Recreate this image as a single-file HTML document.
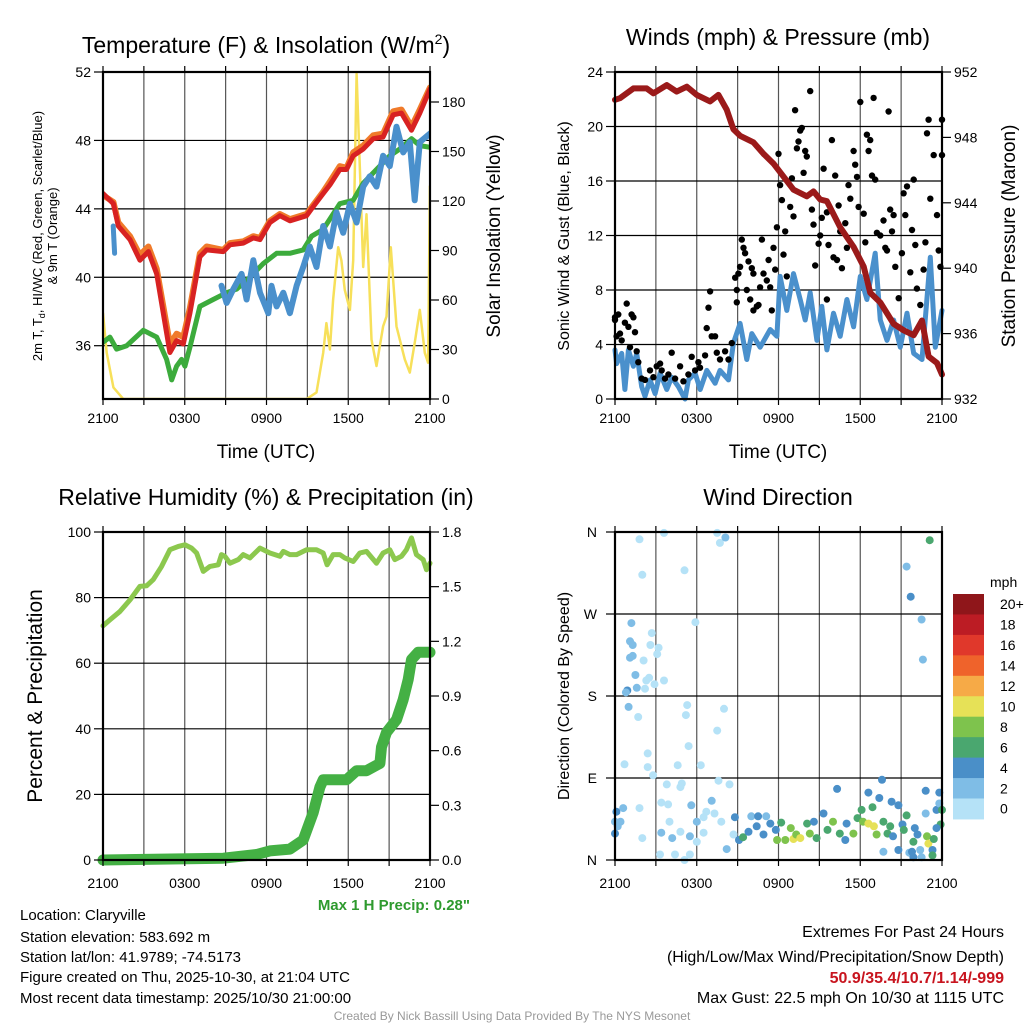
<!DOCTYPE html>
<html><head><meta charset="utf-8"><style>
html,body{margin:0;padding:0;background:#fff;}
svg{display:block;font-family:"Liberation Sans",Arial,sans-serif;}
</style></head><body>
<svg id="chart" width="1024" height="1024" viewBox="0 0 1024 1024" xmlns="http://www.w3.org/2000/svg">
<rect width="1024" height="1024" fill="#fff"/>
<g id="g1"></g>
<g id="g2"></g>
<g id="g3"></g>
<g id="g4"></g>
<g id="txt">
<text x="266" y="53" font-size="23" text-anchor="middle">Temperature (F) &amp; Insolation (W/m<tspan font-size="14" dy="-9">2</tspan><tspan dy="9">)</tspan></text>
<text x="778" y="45" font-size="23" text-anchor="middle">Winds (mph) &amp; Pressure (mb)</text>
<text x="266" y="505" font-size="23" text-anchor="middle">Relative Humidity (%) &amp; Precipitation (in)</text>
<text x="778" y="505" font-size="23" text-anchor="middle">Wind Direction</text>
<text x="266" y="458" font-size="19" text-anchor="middle">Time (UTC)</text>
<text x="778" y="458" font-size="19" text-anchor="middle">Time (UTC)</text>
<text transform="translate(42,236) rotate(-90)" font-size="13" text-anchor="middle">2m T, T<tspan font-size="9" dy="3">d</tspan><tspan dy="-3">, HI/WC (Red, Green, Scarlet/Blue)</tspan></text>
<text transform="translate(57,236) rotate(-90)" font-size="13" text-anchor="middle">&amp; 9m T (Orange)</text>
<text transform="translate(500,236) rotate(-90)" font-size="19" text-anchor="middle">Solar Insolation (Yellow)</text>
<text transform="translate(569,236) rotate(-90)" font-size="16" text-anchor="middle">Sonic Wind &amp; Gust (Blue, Black)</text>
<text transform="translate(1015,236) rotate(-90)" font-size="19" text-anchor="middle">Station Pressure (Maroon)</text>
<text transform="translate(42,696) rotate(-90)" font-size="21" text-anchor="middle">Percent &amp; Precipitation</text>
<text transform="translate(569,696) rotate(-90)" font-size="16" text-anchor="middle">Direction (Colored By Speed)</text>
<text x="470" y="910" font-size="15" font-weight="bold" fill="#2e9a2e" text-anchor="end">Max 1 H Precip: 0.28"</text>
<g font-size="15">
<text x="20" y="920">Location: Claryville</text>
<text x="20" y="942">Station elevation: 583.692 m</text>
<text x="20" y="962">Station lat/lon: 41.9789; -74.5173</text>
<text x="20" y="982">Figure created on Thu, 2025-10-30, at 21:04 UTC</text>
<text x="20" y="1003">Most recent data timestamp: 2025/10/30 21:00:00</text>
</g>
<g font-size="16" text-anchor="end">
<text x="1004" y="937">Extremes For Past 24 Hours</text>
<text x="1004" y="962">(High/Low/Max Wind/Precipitation/Snow Depth)</text>
<text x="1004" y="983" fill="#c8141e" font-weight="bold">50.9/35.4/10.7/1.14/-999</text>
<text x="1004" y="1003">Max Gust: 22.5 mph On 10/30 at 1115 UTC</text>
</g>
<text x="512" y="1020" font-size="12" fill="#999" text-anchor="middle">Created By Nick Bassill Using Data Provided By The NYS Mesonet</text>
</g>
</svg>
<script>
// ---------- Panel 1 data ----------
const tRed=[0,0.76,1.12,1.98,2.71,3.33,3.94,4.91,5.4,5.89,6.38,7.11,7.6,8.83,9.32,10.29,11.03,11.52,12.25,12.98,13.72,14.94,15.31,16.16,16.65,17.38,17.87,18.36,19.1,19.83,20.56,21.3,21.91,22.64,23.25,24];
const airTemp=[44.9,44.3,43.0,42.2,41.0,41.5,40.2,35.6,36.3,36.1,37.9,41.2,41.6,41.5,41.9,42.0,42.3,42.2,43.2,43.6,43.3,43.6,44.0,44.9,45.4,46.3,46.3,47.1,47.5,48.1,48.2,49.5,49.6,48.6,49.6,51.0];
const temp9m=[44.8,44.4,43.2,42.4,41.3,41.8,40.5,36.1,36.7,36.5,38.2,41.4,41.8,41.6,42.0,42.1,42.4,42.3,43.3,43.7,43.4,43.7,44.1,45.0,45.6,46.5,46.4,47.3,47.7,48.3,48.4,49.7,49.8,48.8,49.8,51.1];
const tDew=[0,0.51,1.0,1.74,2.96,3.94,4.67,5.04,5.4,5.77,6.01,6.38,7.11,8.09,9.07,9.8,10.78,11.76,12.74,13.72,14.69,15.31,16.16,17.38,18.36,19.1,20.07,21.05,21.78,22.64,23.25,24];
const dewPoint=[36.2,36.5,35.8,36.0,36.9,36.5,35.2,34.0,34.8,35.2,34.8,35.9,38.3,38.7,39.1,39.3,40.0,40.8,41.4,41.4,41.6,42.4,42.8,44.3,44.5,45.5,46.3,47.1,47.5,48.1,47.7,47.6];
const tWc1=[0.75,0.8,0.85];
const windChill1=[43.0,42.2,41.4];
const tWc=[8.7,9.07,9.56,10.17,10.54,11.03,11.52,12.13,12.37,12.74,13.23,13.72,14.21,14.69,15.18,15.67,16.16,16.65,17.14,17.63,18.12,18.61,19.1,19.58,20.07,20.56,21.05,21.54,22.03,22.52,22.88,23.25,24];
const windChill=[39.5,38.5,39.3,40.2,38.7,41.0,39.1,37.9,39.5,38.3,39.1,37.9,39.5,40.6,41.8,40.6,43.0,41.8,43.8,42.6,44.3,43.2,45.3,45.9,45.3,47.1,46.5,48.8,47.3,47.9,44.5,47.9,48.4];
const tSol=[0,0.27,0.76,1.49,14.94,15.67,16.16,16.4,16.65,16.89,17.26,17.5,17.75,18.12,18.36,18.61,18.85,19.1,19.34,19.71,20.07,20.56,20.81,21.12,21.54,22.15,22.52,22.88,23.25,23.62,23.86,23.99];
const solar=[52,28,7,0,0,4,28,46,30,60,92,84,66,54,84,197,141,80,112,36,20,44,50,92,44,24,16,34,54,28,22,129];
const temp1Ticks=[36,40,44,48,52];
const solarTicks=[0,30,60,90,120,150,180];
const timeLabels=["2100","0300","0900","1500","2100"];
// ---------- Panel 2 data ----------
const tPres=[0,0.37,1.35,2.33,2.82,3.8,4.53,5.27,6.0,6.98,7.59,8.2,8.69,9.18,10.16,10.9,11.63,12.37,13.1,14.08,14.57,15.06,15.55,16.53,17.51,18.25,18.73,19.47,20.45,21.18,21.92,22.53,23.02,23.63,24];
const pressure=[950.3,950.4,951.0,951.0,950.7,951.2,950.8,951.1,950.6,950.2,950.6,949.7,948.5,948.1,947.7,947.0,946.4,945.6,944.8,944.4,944.7,944.2,944.1,942.5,941.3,940.1,938.5,937.9,936.6,936.2,935.9,936.8,934.6,934.2,933.5];
const tWind=[0,0.12,0.49,0.73,0.98,1.35,1.59,1.96,2.2,2.57,2.94,3.31,3.8,4.16,4.65,5.14,5.39,5.88,6.25,6.74,7.35,7.71,8.33,8.69,9.18,9.67,10.04,10.65,11.39,11.88,12.12,12.61,13.1,13.59,13.96,14.33,14.82,15.18,15.55,16.04,16.53,17.02,17.51,18.0,18.49,19.1,19.47,19.96,20.45,20.94,21.43,21.92,22.53,23.14,23.51,24];
const windSpeed=[3.6,2.6,3.35,0.7,3.6,2.4,3.35,0.9,0.2,1.4,0.4,1.9,0.7,1.6,0.9,0,1.4,1.9,0.7,2.1,1.15,2.1,1.4,4.1,5.55,2.9,4.8,3.8,5.1,4.6,9.0,6.5,9.2,7.3,5.8,7.8,4.3,6.8,3.6,6.3,4.6,7.3,5.3,9.0,7.3,10.7,5.8,4.3,5.8,3.8,6.3,3.35,2.9,10.4,3.8,6.5];
const tGust=[0,0,0.24,0.12,0.37,0.49,0.73,0.86,0.98,1.22,1.35,1.47,1.10,1.59,1.71,1.96,2.20,2.57,2.82,3.06,3.31,3.43,3.67,3.92,4.16,4.41,4.78,5.02,5.39,5.63,5.88,6.12,6.24,6.61,6.86,6.98,6.73,7.10,7.35,7.47,7.71,8.08,8.33,8.57,8.82,8.94,8.94,9.06,9.18,9.31,9.43,9.55,9.80,10.04,10.16,9.67,9.92,10.16,10.41,10.53,10.65,10.78,10.90,11.14,11.27,11.39,11.51,11.63,11.76,11.88,12.00,12.12,12.25,12.49,12.37,12.61,12.86,12.98,13.10,13.22,13.35,13.47,13.59,13.71,13.96,14.08,14.33,13.84,14.45,14.57,14.69,14.94,15.06,15.18,15.31,15.55,15.67,15.92,16.04,16.16,16.29,16.41,16.53,16.65,16.90,17.02,17.14,17.27,17.51,17.63,17.76,17.88,18.00,18.25,18.37,18.49,18.61,18.73,18.86,18.98,19.10,19.22,19.47,19.71,19.84,19.96,20.08,20.20,20.33,20.45,20.57,20.82,21.06,21.18,21.31,21.43,21.67,21.80,21.92,22.04,22.16,22.41,22.65,22.78,22.90,23.02,23.14,23.39,23.63,23.76,23.88,24.0,24.0,15.55];
const gust=[5.8,6.0,6.2,4.6,4.8,4.3,5.6,7.0,5.3,6.2,6.0,4.9,3.8,3.5,2.7,1.5,1.4,2.1,1.6,2.4,2.6,2.1,1.5,1.8,3.4,1.5,2.4,1.3,1.8,3.1,2.1,2.7,2.3,3.2,6.7,7.9,5.2,4.6,4.6,3.4,2.9,3.5,2.9,4.1,8.9,8.0,7.1,9.2,9.7,11.7,11.1,10.7,10.1,9.6,9.2,8.0,7.3,6.5,6.8,6.9,8.2,11.7,9.2,8.7,10.2,8.2,6.5,11.1,9.5,12.6,18.0,15.7,14.6,12.3,10.6,9.0,14.1,16.2,13.4,21.2,18.4,18.9,19.7,19.9,18.2,17.8,22.6,16.6,13.9,12.8,9.8,11.4,12.0,13.3,16.9,13.7,11.3,19.0,10.4,16.4,10.2,14.2,12.3,9.6,12.9,11.1,15.7,14.7,18.2,17.2,16.3,14.1,21.8,13.6,11.5,19.4,18.2,19.0,16.4,22.1,16.1,12.2,12.0,13.1,11.1,10.9,21.1,13.9,12.3,13.5,9.7,7.4,10.7,15.1,13.5,15.6,9.3,12.4,16.1,11.3,8.1,6.9,9.5,11.5,19.5,20.5,14.7,17.9,13.5,10.9,9.7,17.9,20.5,7.3];
const windTicks=[0,4,8,12,16,20,24];
const presTicks=[932,936,940,944,948,952];
// ---------- Panel 3 data ----------
const tRh=[0,0.51,1.25,1.98,2.71,3.2,3.69,4.3,4.91,5.53,6.01,6.5,6.87,7.36,7.85,8.46,8.7,8.95,9.32,9.93,10.29,10.78,11.52,12.25,12.98,13.23,13.72,14.21,14.94,15.67,16.16,16.45,16.89,17.38,17.75,18.36,18.85,19.34,20.07,20.56,21.05,21.42,21.91,22.27,22.64,23.0,23.5,23.74,24];
const relHum=[71.4,73.2,75.8,79.3,83.4,83.6,85.5,89.5,94.6,95.6,96.1,95.1,93.6,88.0,89.5,90.0,93.1,92.6,90.5,91.6,93.1,92.1,95.1,93.6,92.6,94.1,93.1,93.1,94.6,94.6,93.6,90.0,93.1,93.1,92.1,91.0,93.6,94.1,90.5,93.6,94.6,91.6,92.6,94.6,98.2,93.1,91.6,88.5,90.5];
const tPcp=[0,8.83,11.27,12.25,13.72,14.69,15.43,15.92,16.16,17.87,18.61,19.34,20.32,20.44,20.81,21.54,22.03,22.4,22.64,23.13,24];
const precip=[0,0.01,0.03,0.05,0.06,0.11,0.26,0.40,0.44,0.44,0.49,0.49,0.53,0.62,0.70,0.77,0.88,0.99,1.10,1.14,1.14];
const rhTicks=[0,20,40,60,80,100];
const pcpTicks=["0.0","0.3","0.6","0.9","1.2","1.5","1.8"];
// ---------- Panel 4 data ----------
const tDir=[1.8,3.6,7.5,7.7,8.1,2.0,5.1,23.1,21.4,21.7,22.5,22.6,1.2,2.7,5.9,1.1,1.3,2.6,3.2,3.1,1.1,1.3,2.1,1.5,2.5,2.3,3.6,2.9,1.6,2.2,0.9,0.8,1.0,1.7,5.3,5.2,8.0,7.5,5.4,2.4,0.7,2.4,4.6,6.3,2.8,7.6,8.4,3.8,4.9,4.8,0.1,0.6,1.8,3.4,3.9,5.6,7.1,0.0,0.4,0.2,0.0,2.0,3.4,4.2,4.0,4.8,6.0,6.5,6.7,7.3,7.8,8.8,6.5,5.5,6.0,3.3,4.4,5.1,5.5,8.2,8.7,9.1,9.4,9.8,10.0,10.5,11.1,10.4,10.9,11.4,11.8,11.9,12.2,12.5,12.9,13.1,13.3,13.6,14.1,14.3,14.6,14.8,15.3,15.6,16.0,16.3,16.5,16.9,17.0,17.5,17.8,18.1,18.2,18.6,18.6,19.0,18.9,19.2,19.4,19.6,19.7,20.0,20.2,20.3,20.4,20.8,20.8,21.1,21.2,21.4,21.6,21.8,21.9,22.0,22.2,22.4,22.5,22.8,22.8,22.9,23.0,23.3,23.3,23.4,23.6,23.8,23.8,23.9,24.0,23.6,19.7,21.9];
const direction=[352,359,359,348,354,313,318,351,322,289,264,220,260,249,261,240,236,236,233,226,222,224,219,203,200,197,197,193,189,188,186,184,168,157,170,159,166,142,125,117,105,102,104,104,93,87,83,83,84,80,53,57,57,63,61,60,65,42,42,37,29,24,30,24,42,31,42,47,53,51,42,47,30,26,20,6,6,0,6,12,28,22,25,31,48,48,48,37,28,40,33,22,41,22,35,23,28,24,40,29,42,24,51,33,42,78,29,22,40,29,46,55,42,74,40,37,58,28,68,88,42,29,37,64,26,60,11,39,33,49,8,9,3,35,28,11,3,76,51,26,18,11,5,23,55,62,74,39,55,35,9,20];
const dirSpeed=[1,1,1,1,3,1,1,7,3,5,3,3,3,1,1,3,3,1,1,1,3,3,1,3,1,1,1,1,3,1,5,3,3,1,1,1,1,1,1,1,1,1,1,1,1,1,1,1,1,1,5,3,1,1,1,3,3,3,3,3,5,1,3,3,1,1,3,1,1,1,1,5,1,3,1,1,1,1,1,3,1,5,7,5,3,5,3,5,5,5,5,9,7,9,9,11,9,11,7,9,5,7,5,7,9,5,7,5,5,9,7,7,9,5,11,11,7,9,5,5,7,7,7,5,5,5,5,5,7,7,3,5,5,5,5,3,3,5,3,9,11,5,7,7,5,3,5,7,7,5,3,7];
const dirLabels=["N","E","S","W","N"];
const speedBins=["0","2","4","6","8","10","12","14","16","18","20+"];
const binColors=["#b5e2f7","#7fbde6","#4a8fc8","#4aa76f","#7ec34d","#e6e157","#f6aa47","#ef632b","#e0382b","#bc1c24","#8f161a"];

const NS="http://www.w3.org/2000/svg";
function mk(parent,tag,attrs,text){const e=document.createElementNS(NS,tag);for(const k in attrs)e.setAttribute(k,attrs[k]);if(text!==undefined)e.textContent=text;parent.appendChild(e);return e;}
function scale(d0,d1,r0,r1){return v=>r0+(v-d0)/(d1-d0)*(r1-r0);}
function line(parent,xs,ys,sx,sy,color,w,name){
  let d="";for(let i=0;i<xs.length;i++)d+=(i?"L":"M")+sx(xs[i]).toFixed(1)+","+sy(ys[i]).toFixed(1);
  const p=mk(parent,"path",{d:d,fill:"none",stroke:color,"stroke-width":w,"stroke-linejoin":"round","stroke-linecap":"round"});
  
  
  return p;
}
function frame(g,L,R,T,B,xgrid,ygrids,name){
  const grid=mk(g,"g",{stroke:"#000","stroke-width":1.2});
  
  
  for(let i=1;i<8;i++){const x=L+(R-L)*i/8;mk(grid,"line",{x1:x,x2:x,y1:T,y2:B,stroke:"#555"});}
  ygrids.forEach(y=>mk(grid,"line",{x1:L,x2:R,y1:y,y2:y}));
}
function border(g,L,R,T,B,name,lblOff){
  const r=mk(g,"rect",{x:L,y:T,width:R-L,height:B-T,fill:"none",stroke:"#000","stroke-width":2.2});
  
  
  for(let i=0;i<=8;i++){const x=L+(R-L)*i/8;mk(g,"line",{x1:x,x2:x,y1:B,y2:B+6,stroke:"#000","stroke-width":1.2});mk(g,"line",{x1:x,x2:x,y1:T-6,y2:T,stroke:"#000","stroke-width":1.2});}
  timeLabels.forEach((s,i)=>{const t=mk(g,"text",{x:L+(R-L)*i/4,y:B+lblOff,"font-size":14,"text-anchor":"middle"},s);
    
    });
}
function leftTicks(g,L,ticks,sy,fmt,name){
  ticks.forEach(v=>{const y=sy(v);mk(g,"line",{x1:L-9,x2:L,y1:y,y2:y,stroke:"#000","stroke-width":1.2});
    const t=mk(g,"text",{x:L-12,y:y+5,"font-size":14,"text-anchor":"end"},fmt?fmt(v):v);
    
    });
}
function rightTicks(g,R,ticks,sy,labels,name){
  ticks.forEach((v,i)=>{const y=sy(v);mk(g,"line",{x1:R,x2:R+9,y1:y,y2:y,stroke:"#000","stroke-width":1.2});
    const t=mk(g,"text",{x:R+12,y:y+5,"font-size":14},labels?labels[i]:v);
    
    });
}
const tx=(L,R)=>scale(0,24,L,R);

// Panel 1
(function(){
  const g=document.getElementById("g1"),L=103,R=430,T=72,B=399;
  const sx=tx(L,R),sy=scale(36,52,345.7,72),ss=scale(0,180,399,102);
  frame(g,L,R,T,B,null,temp1Ticks.slice(0,4).map(sy),"temp");
  const cp=mk(mk(g,"defs",{}),"clipPath",{id:"c1"});mk(cp,"rect",{x:L,y:T-2,width:R-L,height:B-T+2});
  const cl=mk(g,"g",{"clip-path":"url(#c1)"});
  line(cl,tSol,solar,sx,ss,"#f7e05a",2.5,"solar-line");
  line(cl,tDew,dewPoint,sx,sy,"#3cab3c",5,"dewpoint-line");
  line(cl,tWc1,windChill1,sx,sy,"#4a90cc",5,"windchill-line-early");
  line(cl,tWc,windChill,sx,sy,"#4a90cc",6,"windchill-line");
  line(cl,tRed,temp9m,sx,sy,"#f07a2a",6,"temp-9m-line");
  line(cl,tRed,airTemp,sx,sy,"#d82222",5,"temp-2m-line");
  border(g,L,R,T,B,"temp",24);
  leftTicks(g,L,temp1Ticks,sy,null,"temp-y-tick");
  rightTicks(g,R,solarTicks,ss,null,"solar-y-tick");
})();
// Panel 2
(function(){
  const g=document.getElementById("g2"),L=615,R=942,T=72,B=399;
  const sx=tx(L,R),sy=scale(0,24,B,T),sp=scale(932,952,B,T);
  frame(g,L,R,T,B,null,windTicks.slice(1,6).map(sy),"wind");
  line(g,tWind,windSpeed,sx,sy,"#4a90cc",5,"sonic-wind-line");
  const dots=mk(g,"g",{fill:"#000"});
  
  
  tGust.forEach((t,i)=>{const c=mk(dots,"circle",{cx:sx(t).toFixed(1),cy:sy(gust[i]).toFixed(1),r:3.2});
    
    });
  line(g,tPres,pressure,sx,sp,"#9b1a1a",6,"pressure-line");
  border(g,L,R,T,B,"wind",24);
  leftTicks(g,L,windTicks,sy,null,"wind-y-tick");
  rightTicks(g,R,presTicks,sp,null,"pressure-y-tick");
})();
// Panel 3
(function(){
  const g=document.getElementById("g3"),L=103,R=430,T=532,B=860;
  const sx=tx(L,R),sy=scale(0,100,B,T),sp=scale(0,1.8,B,T);
  frame(g,L,R,T,B,null,rhTicks.slice(1,5).map(sy),"humidity");
  line(g,tRh,relHum,sx,sy,"#8cc84e",5,"humidity-line");
  line(g,tPcp,precip,sx,sp,"#44b044",11,"precip-line");
  border(g,L,R,T,B,"humidity",28);
  leftTicks(g,L,rhTicks,sy,null,"humidity-y-tick");
  rightTicks(g,R,pcpTicks.map(Number),sp,pcpTicks,"precip-y-tick");
})();
// Panel 4
(function(){
  const g=document.getElementById("g4"),L=615,R=942,T=532,B=860;
  const sx=tx(L,R),sy=scale(0,360,B,T);
  frame(g,L,R,T,B,null,[90,180,270].map(sy),"direction");
  const pts=mk(g,"g",{});
  
  
  tDir.forEach((t,i)=>{const bin=Math.min(10,Math.floor(dirSpeed[i]/2));
    const c=mk(pts,"circle",{cx:sx(t).toFixed(1),cy:sy(direction[i]).toFixed(1),r:4,fill:binColors[bin]});
    
    });
  border(g,L,R,T,B,"direction",28);
  dirLabels.forEach((s,i)=>{const y=sy(i*90);mk(g,"line",{x1:L-9,x2:L,y1:y,y2:y,stroke:"#000","stroke-width":1.2});
    const t=mk(g,"text",{x:L-18,y:y+5,"font-size":14,"text-anchor":"end"},s);
    
    });
  const cb=mk(g,"g",{});
  
  
  const top=594,h=20.45;
  mk(cb,"text",{x:990,y:587,"font-size":14},"mph");
  speedBins.forEach((s,i)=>{const k=10-i;const y=top+i*h;
    const r=mk(cb,"rect",{x:953,y:y,width:31,height:h+0.5,fill:binColors[k]});
    
    
    const t=mk(cb,"text",{x:1000,y:y+h/2+5,"font-size":14},speedBins[k]);
    
    });
})();
</script>
</body></html>
